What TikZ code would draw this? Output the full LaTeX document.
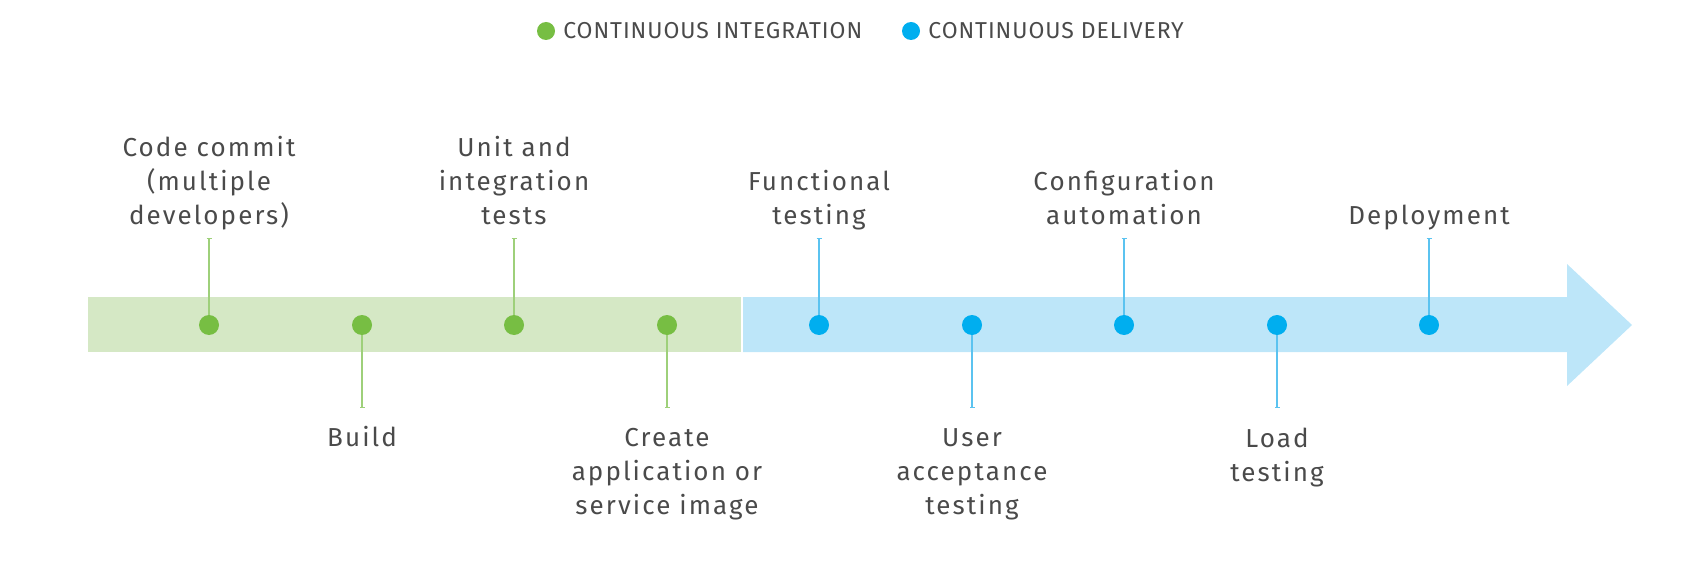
\documentclass[tikz,border=0pt]{standalone}
\usepackage{fontspec}
\setmainfont{Fira Sans}
\newfontfamily\stepfont[LetterSpace=8]{Fira Sans}
\newfontfamily\legendfont[LetterSpace=4]{Fira Sans}
\usetikzlibrary{arrows.meta,positioning}

\definecolor{cibar}{HTML}{D5E8C5}
\definecolor{cidot}{HTML}{77BE43}
\definecolor{ciline}{HTML}{9ED07A}
\definecolor{cdbar}{HTML}{BDE6F9}
\definecolor{cddot}{HTML}{00AEEF}
\definecolor{cdline}{HTML}{5BC3F0}
\definecolor{txtgray}{HTML}{4A4A4A}

\begin{document}
\begin{tikzpicture}[
    x = 1pt,
    y = -1pt,
    cistep/.style = {
      circle,
      fill = cidot,
      inner sep = 0pt,
      minimum size = 20pt
    },
    cdstep/.style = {
      cistep,
      fill = cddot
    },
    citick/.style = {
      draw = ciline,
      line width = 1.5pt,
      -{Bar[width=5pt, line width=1pt]}
    },
    cdtick/.style = {
      citick,
      draw = cdline
    },
    steptext/.style = {
      align = center,
      inner sep = 0pt,
      text = txtgray,
      font = \stepfont\fontsize{26}{34}\selectfont,
      execute at begin node = \strut,
      execute at end node = \strut
    },
    legendtext/.style = {
      anchor = west,
      inner sep = 0pt,
      text = txtgray,
      font = \legendfont\fontsize{23}{26}\selectfont
    },
    legenddot/.style = {
      circle,
      inner sep = 0pt,
      minimum size = 18pt
    }
  ]
  \useasboundingbox (0,0) rectangle (1704,569);

  % legend
  \node[legenddot, fill = cidot] (cikey) at (546,31) {};
  \node[legendtext, right = 8pt of cikey] (citxt) {CONTINUOUS INTEGRATION};
  \node[legenddot, fill = cddot] (cdkey) at (911,31) {};
  \node[legendtext, right = 8pt of cdkey] (cdtxt) {CONTINUOUS DELIVERY};

  % bars
  \fill[cibar] (88,297) rectangle (741,352);
  \fill[cdbar] (743,297) -- (1567,297) -- (1567,264) -- (1632,325)
    -- (1567,386) -- (1567,352) -- (743,352) -- cycle;

  % steps
  \node[cistep] (commit) at (209,325) {};
  \node[cistep] (build) at (362,325) {};
  \node[cistep] (unit) at (514,325) {};
  \node[cistep] (image) at (667,325) {};
  \node[cdstep] (func) at (819,325) {};
  \node[cdstep] (accept) at (972,325) {};
  \node[cdstep] (config) at (1124,325) {};
  \node[cdstep] (load) at (1277,325) {};
  \node[cdstep] (deploy) at (1429,325) {};

  \coordinate (commit-end) at (209,238);
  \coordinate (build-end) at (362,408);
  \coordinate (unit-end) at (514,238);
  \coordinate (image-end) at (667,408);
  \coordinate (func-end) at (819,238);
  \coordinate (accept-end) at (972,408);
  \coordinate (config-end) at (1124,238);
  \coordinate (load-end) at (1277,408);
  \coordinate (deploy-end) at (1429,238);

  \draw[citick] (commit) -- (commit-end);
  \draw[citick] (build) -- (build-end);
  \draw[citick] (unit) -- (unit-end);
  \draw[citick] (image) -- (image-end);
  \draw[cdtick] (func) -- (func-end);
  \draw[cdtick] (accept) -- (accept-end);
  \draw[cdtick] (config) -- (config-end);
  \draw[cdtick] (load) -- (load-end);
  \draw[cdtick] (deploy) -- (deploy-end);

  % labels
  \node[steptext, above = 3pt of commit-end] (commit-txt) {Code commit\\(multiple\\developers)};
  \node[steptext, below = 14pt of build-end] (build-txt) {Build};
  \node[steptext, above = 3pt of unit-end] (unit-txt) {Unit and\\integration\\tests};
  \node[steptext, below = 20pt of image-end] (image-txt) {Create\\application or\\service image};
  \node[steptext, above = 3pt of func-end] (func-txt) {Functional\\testing};
  \node[steptext, below = 20pt of accept-end] (accept-txt) {User\\acceptance\\testing};
  \node[steptext, above = 3pt of config-end] (config-txt) {Configuration\\automation};
  \node[steptext, below = 20pt of load-end] (load-txt) {Load\\testing};
  \node[steptext, above = 3pt of deploy-end] (deploy-txt) {Deployment};
\end{tikzpicture}
\end{document}
